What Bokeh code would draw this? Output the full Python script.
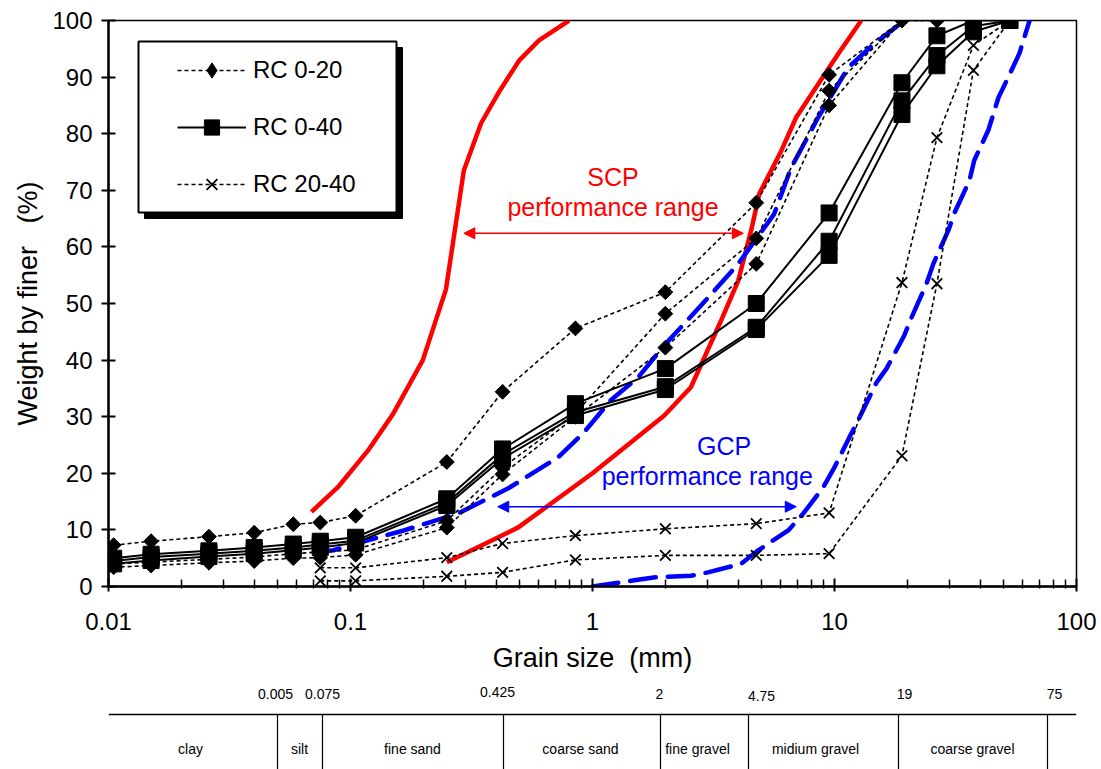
from bokeh.plotting import figure
from bokeh.models import (Range1d, FixedTicker, CustomJSTickFormatter, Legend, LegendItem,
                          BoxAnnotation, Arrow, NormalHead)
from bokeh.layouts import column
from bokeh.embed import file_html
from bokeh.resources import INLINE
from bokeh.core.properties import value

FONT = "Liberation Sans"

# ---------------- data ----------------
hydro = [0.0105, 0.015, 0.026, 0.04, 0.058, 0.075, 0.105]
sieve = [0.25, 0.425, 0.85, 2, 4.75, 9.5, 19, 26.5, 37.5, 53]

rc020_x = hydro + [0.25, 0.425, 0.85, 2, 4.75, 9.5, 19, 26.5]
rc020_a = [7.3, 8, 8.8, 9.5, 11, 11.3, 12.5, 22, 34.4, 45.6, 52, 67.8, 90.4, 100, 100]
rc020_b = [4, 4.3, 4.8, 5.2, 5.8, 6.1, 6.5, 11.6, 21, 30.6, 48.2, 61.5, 87.6, 100, 100]
rc020_c = [3.4, 3.7, 4.2, 4.5, 5, 5.1, 5.6, 10.4, 19.8, 30, 42.2, 57, 85, 100, 100]

rc040_x = hydro + sieve
rc040_a = [5, 5.7, 6.3, 6.9, 7.5, 8, 8.7, 15.5, 24.3, 32.3, 38.5, 50, 66, 89, 97.3, 100, 100]
rc040_b = [4.5, 5.2, 5.8, 6.3, 6.9, 7.4, 8.1, 14.8, 23.3, 30.8, 35.3, 45.8, 61, 85.8, 93.8, 99, 100]
rc040_c = [4, 4.6, 5.3, 5.8, 6.4, 6.9, 7.7, 14.3, 22.6, 30.2, 34.8, 45.4, 58.5, 83.4, 92, 98, 100]

rc2040_x = [0.075, 0.105] + sieve
rc2040_a = [3.3, 3.3, 5.1, 7.6, 9, 10.2, 11.1, 13, 53.7, 79.3, 95.6, 100]
rc2040_b = [1, 1, 1.8, 2.5, 4.7, 5.5, 5.5, 5.8, 23.1, 53.5, 91.2, 100]

scp_lo_x = [0.069, 0.0885, 0.118, 0.15, 0.199, 0.248, 0.294, 0.346, 0.407, 0.497, 0.601, 0.80]
scp_lo_y = [13.2, 17.5, 24, 30.5, 40, 52.5, 73.5, 81.8, 87.1, 92.9, 96.5, 100]
scp_hi_x = [0.25, 0.346, 0.492, 1.0, 1.98, 2.55, 3.40, 4.0, 4.53, 4.89, 6.03, 6.95, 8.57, 10.4, 12.9]
scp_hi_y = [4.3, 7.2, 10.4, 20, 30.2, 35.2, 47, 54, 63, 69.4, 77, 82.9, 88.8, 94.2, 100]

gcp_lo_x = [0.0705, 0.085, 0.098, 0.166, 0.278, 0.447, 0.72, 0.92, 1.19, 1.54, 1.98, 3.0, 4.0,
            5.63, 6.62, 8.57, 11.4, 14.6, 19.5]
gcp_lo_y = [6, 6.4, 7.2, 9.9, 12.9, 17.3, 22.8, 27.2, 32.9, 36.9, 42.6, 51, 57, 65.8, 74, 82.9,
            91.7, 95.9, 100]
gcp_hi_x = [1.0, 1.49, 1.79, 2.55, 3.0, 4.11, 4.84, 6.44, 7.43, 8.98, 9.98, 11.5, 12.7, 14.9, 16.4,
            19.4, 20.8, 24.0, 25.6, 29.6, 31.3, 36.1, 37.8, 43.2, 47.6, 52.3, 58.1, 64]
gcp_hi_y = [0, 1.1, 1.6, 1.9, 2.5, 4, 6.4, 9.9, 12.9, 17.5, 21, 26.3, 29.9, 36, 38.5, 44.3, 47.5,
            53.5, 57, 63, 66, 71.7, 75.3, 80.6, 86.4, 90, 94.2, 100]

x_ticks = [0.01, 0.1, 1, 10, 100]
x_tick_labels = ["0.01", "0.1", "1", "10", "100"]
y_ticks = [0, 10, 20, 30, 40, 50, 60, 70, 80, 90, 100]

scp_arrow = (0.294, 4.2, 62.4)
gcp_arrow = (0.406, 6.95, 14.1)
scp_text = ["SCP", "performance range"]
scp_text_x = [1.216, 1.216]
scp_text_y = [72.3, 67.1]
gcp_text = ["GCP", "performance range"]
gcp_text_x = [3.5, 2.98]
gcp_text_y = [24.9, 19.6]

bounds = ["0.005", "0.075", "0.425", "2", "4.75", "19", "75"]
classes = ["clay", "silt", "fine sand", "coarse sand", "fine gravel", "midium gravel", "coarse gravel"]

# layout positions for the soil classification strip (canvas pixels)
bound_label_px = [275, 322, 497, 659, 761, 904, 1054]
bound_label_py = [13, 13, 11, 13, 15, 13, 13]
bound_line_px = [277, 322, 503, 660, 748, 898, 1047]
class_px = [190, 299, 412, 580, 697, 815, 972]

# ---------------- main figure ----------------
p = figure(width=1101, height=680, x_axis_type="log",
           x_range=Range1d(0.01, 100), y_range=Range1d(0, 100),
           toolbar_location=None, output_backend="svg",
           min_border_left=108, min_border_right=25, min_border_top=20, min_border_bottom=94)
p.grid.visible = False
p.outline_line_color = "black"
p.outline_line_width = 1.5
p.background_fill_color = "white"
p.border_fill_color = "white"

xa = p.xaxis[0]
ya = p.yaxis[0]
xa.ticker = FixedTicker(ticks=x_ticks,
                        minor_ticks=[m * d for d in [0.01, 0.1, 1, 10] for m in range(2, 10)])
xa.formatter = CustomJSTickFormatter(
    args=dict(t=x_ticks, l=x_tick_labels),
    code="for (let i=0;i<t.length;i++){ if (Math.abs(tick/t[i]-1)<1e-6) return l[i]; } return '';")
ya.ticker = FixedTicker(ticks=y_ticks)
xa.axis_label = "Grain size\u00a0 (mm)"
ya.axis_label = "Weight by finer\u00a0\u00a0 (%)"
for ax in (xa, ya):
    ax.axis_line_width = 2.5
    ax.axis_line_color = "black"
    ax.major_tick_line_color = "black"
    ax.minor_tick_line_color = "black"
    ax.major_tick_line_width = 2
    ax.minor_tick_line_width = 1.5
    ax.major_label_text_font = FONT
    ax.major_label_text_font_size = "24px"
    ax.major_label_text_color = "black"
    ax.axis_label_text_font = FONT
    ax.axis_label_text_font_size = "27px"
    ax.axis_label_text_font_style = "normal"
    ax.axis_label_text_color = "black"
xa.major_tick_in = 8
xa.major_tick_out = 5
xa.minor_tick_in = 7
xa.minor_tick_out = 2
xa.major_label_standoff = 21
xa.axis_label_standoff = 10
ya.major_tick_in = 7
ya.major_tick_out = 7
ya.major_label_standoff = 9
ya.axis_label_standoff = 6

# performance range curves
p.line(scp_lo_x, scp_lo_y, line_color="red", line_width=4.5, line_join="round")
p.line(scp_hi_x, scp_hi_y, line_color="red", line_width=4.5, line_join="round")
p.line(gcp_lo_x, gcp_lo_y, line_color="blue", line_width=4.5, line_dash="26 12", line_cap="round")
p.line(gcp_hi_x, gcp_hi_y, line_color="blue", line_width=4.5, line_dash="26 12", line_cap="round")

# RC series
legend_refs = []
first = True
for ys in (rc020_a, rc020_b, rc020_c):
    l = p.line(rc020_x, ys, line_color="black", line_width=1.6, line_dash="4 3")
    if first:
        # legend swatch: an upright diamond hidden beneath the rotated square markers
        sw = p.scatter(rc020_x, ys, marker="diamond", size=13,
                       fill_color="black", line_color="black")
        legend_refs.append(("RC 0-20", [l, sw]))
        first = False
    p.scatter(rc020_x, ys, marker="square", angle=0.7854, size=10.5,
              fill_color="black", line_color="black")
first = True
for ys in (rc040_a, rc040_b, rc040_c):
    l = p.line(rc040_x, ys, line_color="black", line_width=2)
    s = p.scatter(rc040_x, ys, marker="square", size=16, fill_color="black", line_color="black")
    if first:
        legend_refs.append(("RC 0-40", [l, s]))
        first = False
first = True
for ys in (rc2040_a, rc2040_b):
    l = p.line(rc2040_x, ys, line_color="black", line_width=1.6, line_dash="4 3")
    s = p.scatter(rc2040_x, ys, marker="x", size=15, line_color="black", line_width=1.8)
    if first:
        legend_refs.append(("RC 20-40", [l, s]))
        first = False

# arrows
for (x0, x1, yy), col in ((scp_arrow, "red"), (gcp_arrow, "blue")):
    p.add_layout(Arrow(x_start=x0, y_start=yy, x_end=x1, y_end=yy,
                       start=NormalHead(size=11, fill_color=col, line_color=col, line_width=1),
                       end=NormalHead(size=11, fill_color=col, line_color=col, line_width=1),
                       line_color=col, line_width=1.6))

# annotation texts
p.text(x=scp_text_x, y=scp_text_y, text=scp_text, text_font=value(FONT), text_font_size="25px",
       text_color="red", text_align="center", text_baseline="middle")
p.text(x=gcp_text_x, y=gcp_text_y, text=gcp_text, text_font=value(FONT), text_font_size="25px",
       text_color="blue", text_align="center", text_baseline="middle")

# legend with shadow box
p.add_layout(BoxAnnotation(left=144, right=402, top=47, bottom=218,
                           left_units="canvas", right_units="canvas",
                           top_units="canvas", bottom_units="canvas",
                           fill_color="black", fill_alpha=1, line_color="black", line_alpha=1))
p.add_layout(BoxAnnotation(left=138, right=396, top=41, bottom=212,
                           left_units="canvas", right_units="canvas",
                           top_units="canvas", bottom_units="canvas",
                           fill_color="white", fill_alpha=1, line_color="black", line_width=2,
                           line_alpha=1))
legend = Legend(items=[LegendItem(label=lab, renderers=r) for lab, r in legend_refs],
                location=(69, 383), orientation="vertical",
                border_line_color=None, background_fill_alpha=0, padding=0, margin=0,
                spacing=19, glyph_width=69, glyph_height=38, label_height=38,
                label_standoff=7, label_width=100,
                label_text_font=FONT, label_text_font_size="24px", label_text_color="black")
p.add_layout(legend)

# ---------------- classification strip ----------------
# (its frame is aligned with the main plot frame, so the range spans the same pixels)
t = figure(width=1101, height=89, x_range=Range1d(108, 1076), y_range=Range1d(89, 0),
           toolbar_location=None, output_backend="svg",
           min_border_left=108, min_border_right=25, min_border_top=0, min_border_bottom=0,
           x_axis_location=None, y_axis_location=None)
t.grid.visible = False
t.outline_line_color = None
t.segment(x0=[108], y0=[34], x1=[1076], y1=[34], line_color="black", line_width=1.5)
t.segment(x0=bound_line_px, y0=[34] * len(bound_line_px), x1=bound_line_px,
          y1=[89] * len(bound_line_px), line_color="black", line_width=1.2)
t.text(x=bound_label_px, y=bound_label_py, text=bounds, text_font=value(FONT),
       text_font_size="14px", text_align="center", text_baseline="middle", text_color="black")
t.text(x=class_px, y=[68] * len(class_px), text=classes, text_font=value(FONT),
       text_font_size="14px", text_align="center", text_baseline="middle", text_color="black")

layout = column(p, t, spacing=0)
open("out.html", "w").write(file_html(layout, INLINE))
